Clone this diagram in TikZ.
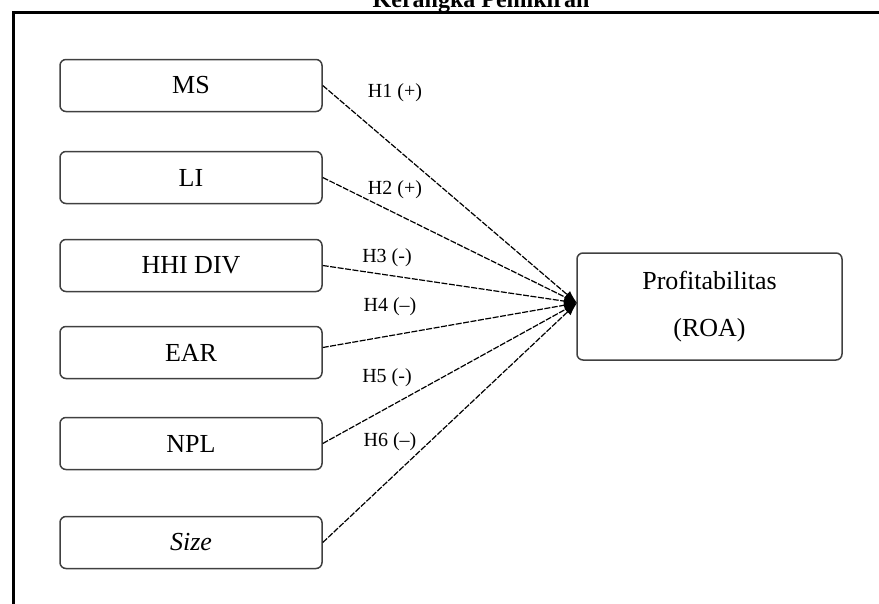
\documentclass[tikz,border=0pt]{standalone}
\usepackage{fontspec}
\setmainfont{Liberation Serif}
\usetikzlibrary{arrows.meta}
\begin{document}
\begin{tikzpicture}[x=1pt,y=-1pt,
  varbox/.style={draw=black!75, line width=1.5pt, rounded corners=6pt,
    minimum width=262pt, minimum height=52pt, inner sep=0pt,
    font=\fontsize{26}{30}\selectfont},
  hyp/.style={font=\fontsize{20}{22}\selectfont, inner sep=0pt},
  link/.style={line width=1.2pt, dash pattern=on 6pt off 1.5pt,
    -{Latex[length=13pt,width=9pt]}}]
\useasboundingbox (0,0) rectangle (879,603);
\clip (0,0) rectangle (879,603);
% title (cut by top edge, as in the reference)
\node[font=\bfseries\fontsize{24}{26}\selectfont, anchor=base, inner sep=0pt] (title) at (481,7) {Kerangka Pemikiran};
% frame
\draw[line width=3.8pt] (13.5,640) -- (13.5,12.5) -- (900,12.5);
% variable boxes
\node[varbox] (MS)  at (191,85.5)  {MS};
\node[varbox] (LI)  at (191,177.5) {LI};
\node[varbox] (HHI) at (191,265.5) {HHI DIV};
\node[varbox] (EAR) at (191,352.5) {EAR};
\node[varbox] (NPL) at (191,443.5) {NPL};
\node[varbox] (SZ)  at (191,542.5) {\itshape Size};
% dependent box
\node[varbox, minimum width=265pt, minimum height=107pt, align=center,
  font=\fontsize{26}{47}\selectfont] (ROA) at (709.5,306.5) {Profitabilitas\\(ROA)};
\coordinate (tip) at (577,303);
% connectors
\draw[link] (MS.east) -- (tip);
\draw[link] (LI.east) -- (tip);
\draw[link] (HHI.east) -- (tip);
\draw[link] ([yshift=5pt]EAR.east) -- (tip);
\draw[link] (NPL.east) -- (tip);
\draw[link] (SZ.east) -- (tip);
% hypothesis labels
\node[hyp] (h1) at (395,93)  {H1 (+)};
\node[hyp] (h2) at (395,190) {H2 (+)};
\node[hyp] (h3) at (387,258) {H3 (-)};
\node[hyp] (h4) at (390,307) {H4 (–)};
\node[hyp] (h5) at (387,378) {H5 (-)};
\node[hyp] (h6) at (390,442) {H6 (–)};
\end{tikzpicture}
\end{document}
